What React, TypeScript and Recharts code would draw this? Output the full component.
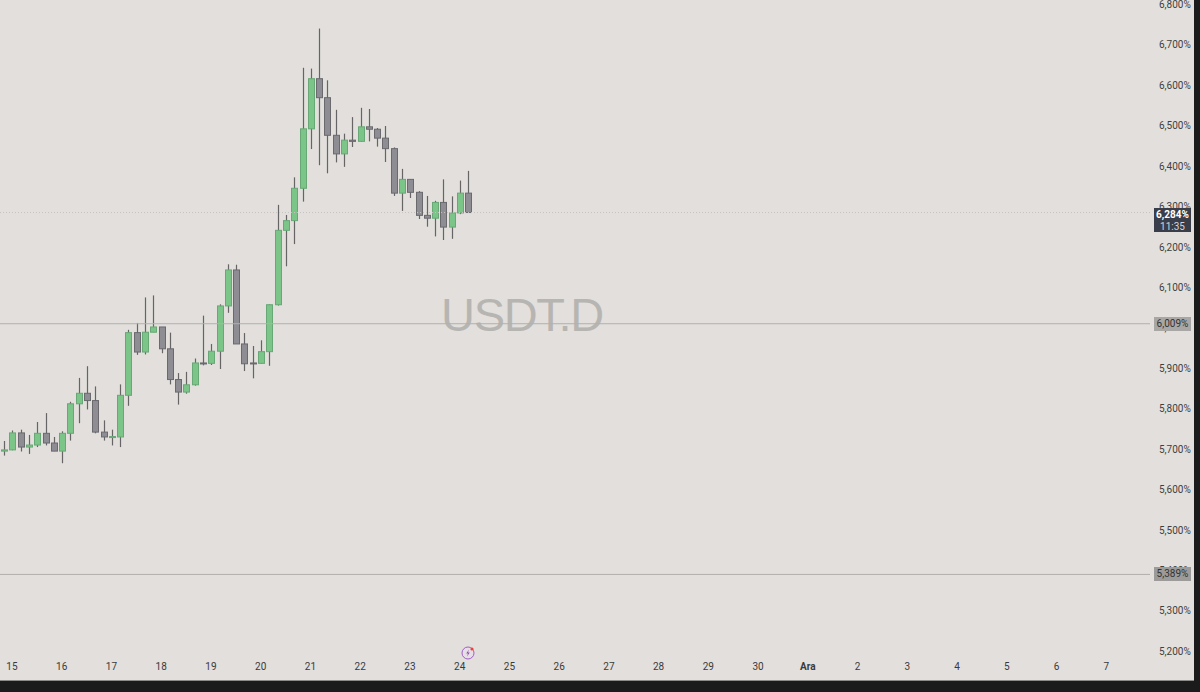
import { Bar, ComposedChart, ReferenceLine, XAxis, YAxis } from "recharts";

const opens = [
  5694, 5697, 5739, 5704, 5709, 5738, 5714, 5694, 5738, 5811, 5837, 5819, 5741, 5729, 5729, 5832, 5987, 5939, 5988,
  6001, 5947, 5871, 5840, 5858, 5912, 5911, 5941, 6053, 6142, 5959, 5912, 5911, 5940, 6056, 6240, 6264, 6344, 6491,
  6615, 6568, 6475, 6429, 6463, 6460, 6496, 6490, 6468, 6442, 6332, 6366, 6334, 6277, 6270, 6309, 6248, 6283, 6332,
];
const highs = [
  5719, 5745, 5747, 5734, 5766, 5788, 5729, 5743, 5816, 5875, 5904, 5854, 5770, 5747, 5859, 5994, 6011, 6074, 6079,
  6001, 5987, 5887, 5890, 5923, 6029, 5959, 6057, 6156, 6155, 5986, 5954, 5968, 6057, 6303, 6278, 6371, 6642, 6640,
  6739, 6611, 6538, 6479, 6520, 6543, 6540, 6493, 6498, 6445, 6392, 6366, 6337, 6325, 6313, 6366, 6324, 6363, 6387,
];
const lows = [
  5683, 5696, 5693, 5687, 5704, 5708, 5694, 5664, 5720, 5763, 5797, 5738, 5720, 5708, 5704, 5806, 5932, 5933, 5988,
  5936, 5859, 5809, 5836, 5856, 5906, 5907, 5897, 6036, 5959, 5892, 5874, 5910, 5905, 6054, 6151, 6206, 6311, 6441,
  6401, 6381, 6408, 6397, 6446, 6459, 6460, 6447, 6409, 6325, 6288, 6320, 6268, 6249, 6225, 6216, 6219, 6280, 6284,
];
const closes = [
  5697, 5739, 5704, 5709, 5738, 5714, 5694, 5738, 5811, 5837, 5819, 5741, 5729, 5730, 5832, 5987, 5939, 5988, 6001,
  5947, 5871, 5840, 5858, 5912, 5910, 5941, 6053, 6142, 5959, 5910, 5910, 5940, 6056, 6240, 6264, 6344, 6491, 6615,
  6568, 6475, 6429, 6463, 6460, 6496, 6490, 6468, 6442, 6332, 6366, 6334, 6277, 6270, 6309, 6248, 6283, 6332, 6284,
];

const dayTicks = [1, 7, 13, 19, 25, 31, 37, 43, 49, 55, 61, 67, 73, 79, 85, 91, 97, 103, 109, 115, 121, 127, 133];
const dayLabels = ["15", "16", "17", "18", "19", "20", "21", "22", "23", "24", "25", "26", "27", "28", "29", "30", "Ara", "2", "3", "4", "5", "6", "7"];
const priceTicks = [5200, 5300, 5400, 5500, 5600, 5700, 5800, 5900, 6000, 6100, 6200, 6300, 6400, 6500, 6600, 6700, 6800];

const data = opens.map((open, i) => ({
  idx: i,
  open,
  high: highs[i],
  low: lows[i],
  close: closes[i],
}));

const fmtPrice = (v: number) => `${Math.floor(v / 1000)},${String(v % 1000).padStart(3, "0")}%`;

function Candle(props: any) {
  const { x, y, width, height, payload } = props;
  const { open, high, low, close } = payload;
  const up = close >= open;
  const perUnit = height / (high - low);
  const top = y + (high - Math.max(open, close)) * perUnit;
  const bodyH = Math.max(Math.abs(open - close) * perUnit, 1);
  const cx = Math.round(x + width / 2) + 0.5;
  return (
    <g>
      <line x1={cx} x2={cx} y1={y} y2={y + height} stroke="#666464" strokeWidth={1.2} />
      <rect
        x={cx - 3}
        y={top}
        width={6}
        height={bodyH}
        fill={up ? "#7ac587" : "#8e8d94"}
        stroke={up ? "#68a876" : "#6a696e"}
        strokeWidth={1}
      />
    </g>
  );
}

function DayTick({ x, y, payload }: any) {
  const label = dayLabels[dayTicks.indexOf(payload.value)];
  return (
    <text
      x={x}
      y={y}
      textAnchor="middle"
      dominantBaseline="central"
      fontFamily="Roboto, sans-serif"
      fontSize={10}
      fontWeight={label === "Ara" ? 700 : 400}
      fill="#3a3a3a"
    >
      {label}
    </text>
  );
}

// plot area is 660px tall, same domain as the YAxis below
const yTop = 6809.6;
const yBottom = 5177.4;
const yOf = (v: number) => ((yTop - v) / (yTop - yBottom)) * 660;

function PriceTag({ value, text, sub, fill, color, bold }: any) {
  const cy = yOf(value);
  const h = sub ? 24 : 14;
  const top = Math.round(sub ? cy - 5 : cy - 7);
  return (
    <div
      style={{
        position: "absolute",
        left: 1154,
        top,
        width: 37,
        height: h,
        background: fill,
        color,
        fontFamily: "Roboto, sans-serif",
        fontSize: 10,
        lineHeight: "12px",
        paddingTop: 1,
        boxSizing: "border-box",
        textAlign: "center",
      }}
    >
      <div style={{ fontWeight: bold ? 700 : 400 }}>{text}</div>
      {sub && <div style={{ color: "#d4d4d8" }}>{sub}</div>}
    </div>
  );
}

export default function App() {
  return (
    <div style={{ position: "absolute", left: 0, top: 0, width: 1200, height: 692, background: "#1b1b1b", overflow: "hidden" }}>
      <div style={{ position: "absolute", left: 0, top: 0, width: 1194, height: 681, background: "#e2dfdc", borderBottom: "1px solid #8c8b89", boxSizing: "border-box" }}>
        <div
          style={{
            position: "absolute",
            left: 402,
            top: 288,
            width: 240,
            textAlign: "center",
            fontFamily: "'Liberation Sans', sans-serif",
            fontSize: 47,
            letterSpacing: -1.3,
            lineHeight: "54px",
            color: "#b7b5b2",
          }}
        >
          USDT.D
        </div>
        <div style={{ position: "absolute", left: 0, top: 0 }}>
          <ComposedChart width={1194} height={680} data={data} margin={{ top: 0, right: 0, bottom: 0, left: 0 }}>
            <XAxis
              dataKey="idx"
              type="number"
              domain={[-0.446, 138.27]}
              allowDataOverflow
              ticks={dayTicks}
              interval={0}
              height={20}
              axisLine={false}
              tickLine={false}
              tickMargin={0}
              tick={<DayTick />}
            />
            <YAxis
              orientation="right"
              type="number"
              domain={[yBottom, yTop]}
              allowDataOverflow
              ticks={priceTicks}
              interval={0}
              width={44}
              axisLine={false}
              tickLine={false}
              tickFormatter={fmtPrice}
              tick={{ fontFamily: "Roboto, sans-serif", fontSize: 10, fill: "#3f3f3f", dx: 1, dy: 0.5 }}
            />
            <ReferenceLine y={6284} stroke="#c6c3bf" strokeDasharray="1 2" />
            <ReferenceLine y={6009} stroke="#b2b0ad" />
            <ReferenceLine y={5389} stroke="#b2b0ad" />
            <Bar
              dataKey={(d: any) => [d.low, d.high]}
              barSize={7}
              isAnimationActive={false}
              shape={<Candle />}
            />
          </ComposedChart>
        </div>
        <PriceTag value={6284} text="6,284%" sub="11:35" fill="#3a3e4b" color="#ffffff" bold />
        <PriceTag value={6009} text="6,009%" fill="#a9a7a5" color="#333333" />
        <PriceTag value={5389} text="5,389%" fill="#9c9b9a" color="#333333" />
        <svg style={{ position: "absolute", left: 460, top: 645 }} width={16} height={16} viewBox="0 0 16 16">
          <circle cx={8} cy={8} r={6} fill="#e6e0e6" stroke="#a25fc4" strokeWidth={1} />
          <path d="M9 4.5 L6.2 8.5 L8 8.5 L7 11.5 L9.8 7.5 L8 7.5 Z" fill="#8e4fb0" />
          <circle cx={12} cy={4} r={1.6} fill="#e8433f" />
        </svg>
      </div>
    </div>
  );
}
